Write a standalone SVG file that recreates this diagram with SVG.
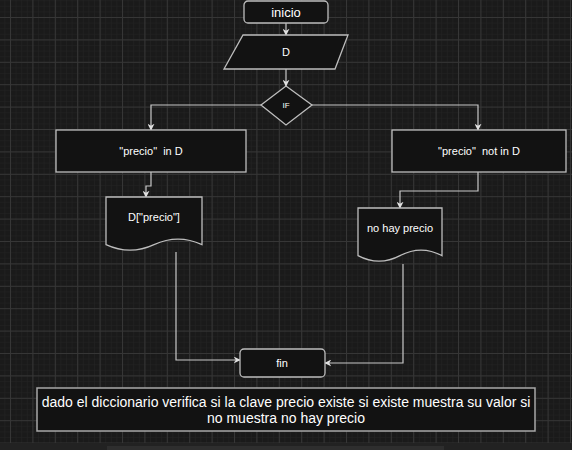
<svg xmlns="http://www.w3.org/2000/svg" width="572" height="450" viewBox="0 0 572 450">
<defs>
<pattern id="minor" x="10" y="17" width="5.6" height="5.6" patternUnits="userSpaceOnUse">
<path d="M0 0 V5.6 M0 0 H5.6" stroke="#242424" stroke-width="1" fill="none"/>
</pattern>
<pattern id="major" x="10" y="17" width="22.4" height="22.4" patternUnits="userSpaceOnUse">
<path d="M0.5 0 V22.4 M0 0.5 H22.4" stroke="#363636" stroke-width="1" fill="none"/>
</pattern>
<marker id="arr" viewBox="0 0 10 10" refX="9" refY="5" markerWidth="7" markerHeight="7" orient="auto" markerUnits="userSpaceOnUse">
<path d="M0 0 L10 5 L0 10 L3 5 Z" fill="#e0e0e0"/>
</marker>
</defs>
<style>
.node{fill:#121212;stroke:#bdbdbd;stroke-width:1.3}
.lbl{fill:#ffffff;font-family:"Liberation Sans",Arial,sans-serif;font-size:11px;text-anchor:middle;dominant-baseline:central}
.conn{fill:none;stroke:#c8c8c8;stroke-width:1.2;marker-end:url(#arr)}
</style>
<rect width="572" height="450" fill="#1a1a1a"/>
<rect width="572" height="450" fill="url(#minor)"/>
<rect width="572" height="450" fill="url(#major)"/>
<rect x="0" y="443" width="572" height="7" fill="#222222"/>
<rect x="107" y="446" width="337" height="4" fill="#2e2e2e"/>

<g id="connectors">
<path class="conn" d="M286 23 V35"/>
<path class="conn" d="M286 69 V86"/>
<path class="conn" d="M261 105 H151 V130"/>
<path class="conn" d="M312 105 H478 V130"/>
<path class="conn" d="M151 172 V186 H146 V197"/>
<path class="conn" d="M478 172 V191 H400 V208"/>
<path class="conn" d="M176 252 V360 H240"/>
<path class="conn" d="M403 264 V363 H325"/>
</g>

<g id="inicio">
<rect class="node" x="244" y="1" width="84" height="22" rx="4"/>
<text class="lbl" x="286" y="12" style="font-size:13px">inicio</text>
</g>
<g id="D">
<path class="node" d="M243 35 H348 L335 69 H224 Z"/>
<text class="lbl" x="286" y="52">D</text>
</g>
<g id="IF">
<path class="node" d="M286 86 L312 105 L286 125 L261 105 Z"/>
<text class="lbl" x="286" y="105" style="font-size:8px">IF</text>
</g>
<g id="in">
<rect class="node" x="56" y="130" width="190" height="42"/>
<text class="lbl" x="151" y="151" xml:space="preserve">"precio"  in D</text>
</g>
<g id="notin">
<rect class="node" x="392" y="130" width="174" height="42"/>
<text class="lbl" x="479" y="151" xml:space="preserve">"precio"  not in D</text>
</g>
<g id="doc1">
<path class="node" d="M106 197 H202 V244.6 Q178 233.5 154 244.6 Q130 255.7 106 244.6 Z"/>
<text class="lbl" x="154" y="217">D["precio"]</text>
</g>
<g id="doc2">
<path class="node" d="M358 208 H442 V255.6 Q421 244.5 400 255.6 Q379 266.7 358 255.6 Z"/>
<text class="lbl" x="400" y="228">no hay precio</text>
</g>
<g id="fin">
<rect class="node" x="240" y="349" width="85" height="28" rx="4"/>
<text class="lbl" x="282" y="363">fin</text>
</g>
<g id="nota">
<rect x="37" y="388" width="498" height="43" fill="#121212" stroke="#a8a8a8" stroke-width="1.5"/>
<text class="lbl" x="286" y="402" style="font-size:14px">dado el diccionario verifica si la clave precio existe si existe muestra su valor si</text>
<text class="lbl" x="286" y="418" style="font-size:14px">no muestra no hay precio</text>
</g>
</svg>
